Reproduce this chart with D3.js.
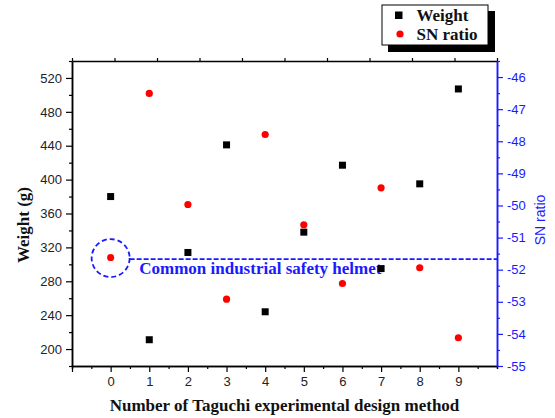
<!DOCTYPE html>
<html><head><meta charset="utf-8">
<script src="https://cdn.jsdelivr.net/npm/d3@7"></script>
<style>body{margin:0;background:#fff}svg{display:block}</style>
</head><body>
<svg id="c" width="555" height="418"></svg>
<script>
const categories = [0,1,2,3,4,5,6,7,8,9];
const weight = [380,211,314,441,244,338,417,295,395,507];
const snRatio = [-51.62,-46.51,-49.97,-52.92,-47.79,-50.60,-52.43,-49.45,-51.94,-54.12];
const weightTicks = [200,240,280,320,360,400,440,480,520];
const snTicks = [-55,-54,-53,-52,-51,-50,-49,-48,-47,-46];
const xTicks = [0,1,2,3,4,5,6,7,8,9];
const commonSN = -51.67;
const seriesNames = ["Weight","SN ratio"];

const svg = d3.select("#c");
const L=72, R=497, T=61, B=366;
const blue="#1a1aff";
const x = d3.scaleLinear().domain([-1,10]).range([L,R]);
const yW = d3.scaleLinear().domain([180,540]).range([B,T]);
const yS = d3.scaleLinear().domain([-55,-45.5]).range([B,T]);

function minor(ticks, step){ const out=[]; ticks.forEach(t=>out.push(t+step)); out.push(ticks[0]-step); return out; }

const fontTick = "Liberation Sans, Arial, sans-serif";
const fontSerif = "Liberation Serif, Times New Roman, serif";

// bottom axis
const gx = svg.append("g").attr("transform",`translate(0,${B})`);
gx.call(d3.axisBottom(x).tickValues(minor([-1].concat(xTicks),0.5).filter(v=>v>-1&&v<10)).tickSize(3).tickFormat(""));
gx.call(g=>{});
const gx2 = svg.append("g").attr("transform",`translate(0,${B})`)
  .call(d3.axisBottom(x).tickValues(xTicks.concat([-1])).tickSize(6).tickSizeOuter(0).tickPadding(5).tickFormat(d=>d<0?"":d));
[gx,gx2].forEach(g=>{g.select(".domain").attr("stroke","#000").attr("stroke-width",1.5);g.selectAll("line").attr("stroke","#000").attr("stroke-width",1.2);});
gx2.selectAll("text").attr("font-family",fontTick).attr("font-size",13).attr("fill","#222");

// top axis
const xTop = d3.scaleLinear().domain([0,10]).range([L,R]);
const gt = svg.append("g").attr("transform",`translate(0,${T})`)
  .call(d3.axisTop(xTop).ticks(10).tickSize(3).tickSizeOuter(0).tickFormat(""));
gt.select(".domain").attr("stroke","#000").attr("stroke-width",1.5);
gt.selectAll("line").attr("stroke","#000").attr("stroke-width",1.2);

// left axis
const gyMin = svg.append("g").attr("transform",`translate(${L},0)`)
  .call(d3.axisLeft(yW).tickValues(weightTicks.map(v=>v-20).concat([540])).tickSize(3).tickSizeOuter(0).tickFormat(""));
const gy = svg.append("g").attr("transform",`translate(${L},0)`)
  .call(d3.axisLeft(yW).tickValues(weightTicks).tickSize(6).tickSizeOuter(0).tickPadding(4));
[gyMin,gy].forEach(g=>{g.select(".domain").attr("stroke","#000").attr("stroke-width",1.5);g.selectAll("line").attr("stroke","#000").attr("stroke-width",1.2);});
gy.selectAll("text").attr("font-family",fontTick).attr("font-size",13).attr("fill","#222");

// right axis
const gsMin = svg.append("g").attr("transform",`translate(${R},0)`)
  .call(d3.axisRight(yS).tickValues(snTicks.map(v=>v+0.5)).tickSize(3).tickSizeOuter(0).tickFormat(""));
const gs = svg.append("g").attr("transform",`translate(${R},0)`)
  .call(d3.axisRight(yS).tickValues(snTicks).tickSize(6).tickSizeOuter(0).tickPadding(4).tickFormat(d=>d));
[gsMin,gs].forEach(g=>{g.select(".domain").attr("stroke",blue).attr("stroke-width",1.5);g.selectAll("line").attr("stroke",blue).attr("stroke-width",1.2);});
gs.selectAll("text").attr("font-family",fontTick).attr("font-size",13).attr("fill",blue);

// reference circle and dashed line
const cx0 = x(categories[0]), cy0 = yS(commonSN);
svg.append("circle").attr("cx",cx0).attr("cy",cy0-1).attr("r",19).attr("fill","none")
  .attr("stroke",blue).attr("stroke-width",1.8).attr("stroke-dasharray","5,3");
svg.append("line").attr("x1",cx0+19).attr("x2",R).attr("y1",cy0).attr("y2",cy0)
  .attr("stroke",blue).attr("stroke-width",1.8).attr("stroke-dasharray","5,2");
svg.append("text").attr("x",x(0.74)).attr("y",cy0+14.5).attr("font-family",fontSerif)
  .attr("font-weight","bold").attr("font-size",17).attr("fill",blue).text("Common industrial safety helmet");

// data marks
svg.append("g").selectAll("rect").data(categories).join("rect")
  .attr("x",(d,i)=>x(d)-3.5).attr("y",(d,i)=>yW(weight[i])-3.5).attr("width",7).attr("height",7).attr("fill","#000");
svg.append("g").selectAll("circle").data(categories).join("circle")
  .attr("cx",d=>x(d)).attr("cy",(d,i)=>yS(snRatio[i])).attr("r",3.6).attr("fill","#ff0000");

// axis titles
svg.append("text").attr("x",(L+R)/2).attr("y",411).attr("text-anchor","middle")
  .attr("font-family",fontSerif).attr("font-weight","bold").attr("font-size",17).attr("fill","#111")
  .text("Number of Taguchi experimental design method");
svg.append("text").attr("transform","translate(29,225) rotate(-90)").attr("text-anchor","middle")
  .attr("font-family",fontSerif).attr("font-weight","bold").attr("font-size",17).attr("fill","#111")
  .text("Weight (g)");
svg.append("text").attr("transform","translate(545,220) rotate(-90)").attr("text-anchor","middle")
  .attr("font-family",fontTick).attr("font-size",14).attr("fill",blue)
  .text("SN ratio");

// legend
const lg = svg.append("g");
lg.append("rect").attr("x",388).attr("y",11).attr("width",107).attr("height",41).attr("fill","#000");
lg.append("rect").attr("x",382).attr("y",5).attr("width",106).attr("height",40).attr("fill","#fff").attr("stroke","#000").attr("stroke-width",1);
lg.append("rect").attr("x",395).attr("y",11.5).attr("width",7.5).attr("height",7.5).attr("fill","#000");
lg.append("circle").attr("cx",400).attr("cy",34).attr("r",3.6).attr("fill","#ff0000");
lg.selectAll("text.l").data(seriesNames).join("text").attr("class","l")
  .attr("x",416.5).attr("y",(d,i)=>i===0?21:39.5)
  .attr("font-family",fontSerif).attr("font-weight","bold").attr("font-size",17).attr("fill","#111").text(d=>d);
</script>
</body></html>
